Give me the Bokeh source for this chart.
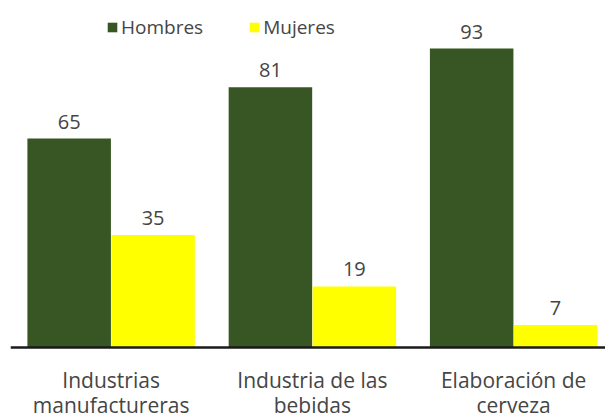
from bokeh.plotting import figure
from bokeh.models import ColumnDataSource, Range1d, Legend, LegendItem, LabelSet, Span
from bokeh.transform import dodge
from bokeh.core.properties import value
from bokeh.embed import file_html
from bokeh.resources import INLINE

categories = ["Industrias\nmanufactureras", "Industria de las\nbebidas", "Elaboración de\ncerveza"]
hombres = [65, 81, 93]
mujeres = [35, 19, 7]
series_names = ["Hombres", "Mujeres"]
colors = ["#375623", "#FFFF00"]

FONT = "Open Sans"
TXT = "#454545"

pos = list(range(len(categories)))
src = ColumnDataSource(dict(
    x=pos, zero=[0] * len(pos),
    cat1=[c.split("\n")[0] for c in categories],
    cat2=[c.split("\n")[1] for c in categories],
    h=hombres, m=mujeres,
    hl=[str(v) for v in hombres], ml=[str(v) for v in mujeres],
))

p = figure(width=605, height=418, output_backend="svg", toolbar_location=None,
           x_range=Range1d(-0.5, 2.4565), y_range=Range1d(-22.08, 103.6),
           min_border_left=10, min_border_right=0, min_border_top=14, min_border_bottom=0)
p.outline_line_color = None
p.xgrid.visible = False
p.ygrid.visible = False
p.xaxis.visible = False
p.yaxis.visible = False

off = 0.2085
w = 0.415
rh = p.vbar(x=dodge("x", -off, range=p.x_range), top="h", width=w, source=src,
            fill_color=colors[0], line_color=None)
rm = p.vbar(x=dodge("x", off, range=p.x_range), top="m", width=w, source=src,
            fill_color=colors[1], line_color=None)

# category axis line at zero
p.add_layout(Span(location=0, dimension="width", line_color="#1a1a1a", line_width=2.5))

for col, lab, o in (("h", "hl", -off), ("m", "ml", off)):
    ls = LabelSet(x=dodge("x", o, range=p.x_range), y=col, text=lab, source=src,
                  text_align="center", text_baseline="bottom", y_offset=10,
                  text_font=value(FONT), text_font_size="20px", text_color=TXT)
    p.add_layout(ls)

for lab, yo in (("cat1", -40), ("cat2", -65)):
    p.add_layout(LabelSet(x="x", y="zero", text=lab, source=src,
                          text_align="center", text_baseline="alphabetic", y_offset=yo,
                          text_font=value(FONT), text_font_size="21px", text_color=TXT))

legend = Legend(items=[LegendItem(label=series_names[0], renderers=[rh]),
                       LegendItem(label=series_names[1], renderers=[rm])],
                orientation="horizontal", location=(96, 378),
                border_line_color=None, background_fill_alpha=0,
                glyph_width=12, glyph_height=12, label_standoff=3, spacing=45,
                label_text_font=FONT, label_text_font_size="19px", label_text_color=TXT,
                padding=0, margin=0)
p.add_layout(legend, "center")

open("out.html", "w").write(file_html(p, INLINE))
